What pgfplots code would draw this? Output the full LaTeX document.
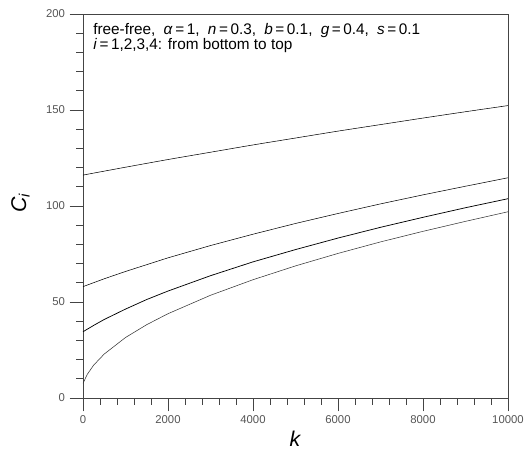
\documentclass[border=0pt]{standalone}
\usepackage{fontspec}
\setmainfont{Liberation Sans}
\usepackage{pgfplots}
\pgfplotsset{compat=1.18}

\definecolor{axisgray}{HTML}{444444}
\definecolor{labelgray}{HTML}{555555}
\definecolor{curvegray}{HTML}{333333}

\begin{document}
\begin{tikzpicture}
\begin{axis}[
    scale only axis,
    width=318.75pt,
    height=288pt,
    xmin=0, xmax=10000,
    ymin=0, ymax=200,
    xtick={0,2000,4000,6000,8000,10000},
    ytick={0,50,100,150,200},
    minor x tick num=4,
    minor y tick num=4,
    tick align=outside,
    xtick pos=left,
    ytick pos=left,
    major tick length=10pt,
    minor tick length=5pt,
    axis line style={axisgray, line width=0.6pt},
    every tick/.style={axisgray, line width=0.6pt},
    scaled x ticks=false,
    /pgf/number format/assume math mode=true,
    /pgf/number format/set thousands separator={},
    ticklabel style={font=\fontsize{8.5}{9}\selectfont, text=labelgray},
    xlabel={\textit{k}},
    ylabel={\textit{C\textsubscript{i}}},
    xlabel style={font=\fontsize{16}{18}\selectfont, yshift=1.5pt},
    ylabel style={font=\fontsize{16}{18}\selectfont,
        at={(axis description cs:-0.147,0.508)}, anchor=center},
    cycle list={{curvegray, line width=0.55pt, mark=none, smooth}},
]
% i = 1
\addplot coordinates {(0,7.6) (100,12.3) (250,17.1) (500,22.9) (1000,31.5) (1500,38.2) (2000,43.9) (3000,53.5) (4000,61.6) (5000,68.8) (6000,75.3) (7000,81.3) (8000,86.8) (9000,92.0) (10000,97.0)};
% i = 2
\addplot coordinates {(0,34.5) (250,37.8) (500,40.9) (1000,46.3) (1500,51.3) (2000,55.7) (3000,63.7) (4000,70.9) (5000,77.3) (6000,83.3) (7000,88.9) (8000,94.1) (9000,99.1) (10000,103.8)};
% i = 3
\addplot coordinates {(0,58.0) (500,62.1) (1000,65.9) (2000,73.0) (3000,79.4) (4000,85.3) (5000,90.9) (6000,96.1) (7000,101.1) (8000,105.8) (9000,110.3) (10000,114.7)};
% i = 4
\addplot coordinates {(0,116.1) (1000,120.2) (2000,124.2) (3000,128.0) (4000,131.8) (5000,135.4) (6000,139.0) (7000,142.4) (8000,145.8) (9000,149.1) (10000,152.3)};

\node[anchor=base west, inner sep=0pt, font=\fontsize{11.5}{12}\selectfont]
    at ([shift={(7.5pt,-15.75pt)}]rel axis cs:0,1)
    {free-free,\hspace{3pt} \textit{α}\,=\,1,\hspace{3pt} \textit{n}\,=\,0.3,\hspace{3pt} \textit{b}\,=\,0.1,\hspace{3pt} \textit{g}\,=\,0.4,\hspace{3pt} \textit{s}\,=\,0.1};
\node[anchor=base west, inner sep=0pt, font=\fontsize{11.5}{12}\selectfont]
    at ([shift={(7.5pt,-27pt)}]rel axis cs:0,1)
    {\textit{i}\,=\,1,2,3,4: from bottom to top};
\end{axis}
\pgfresetboundingbox
\useasboundingbox ([shift={(-62.25pt,-39pt)}]current axis.south west)
    rectangle ([shift={(13.5pt,10.5pt)}]current axis.north east);
\end{tikzpicture}
\end{document}
